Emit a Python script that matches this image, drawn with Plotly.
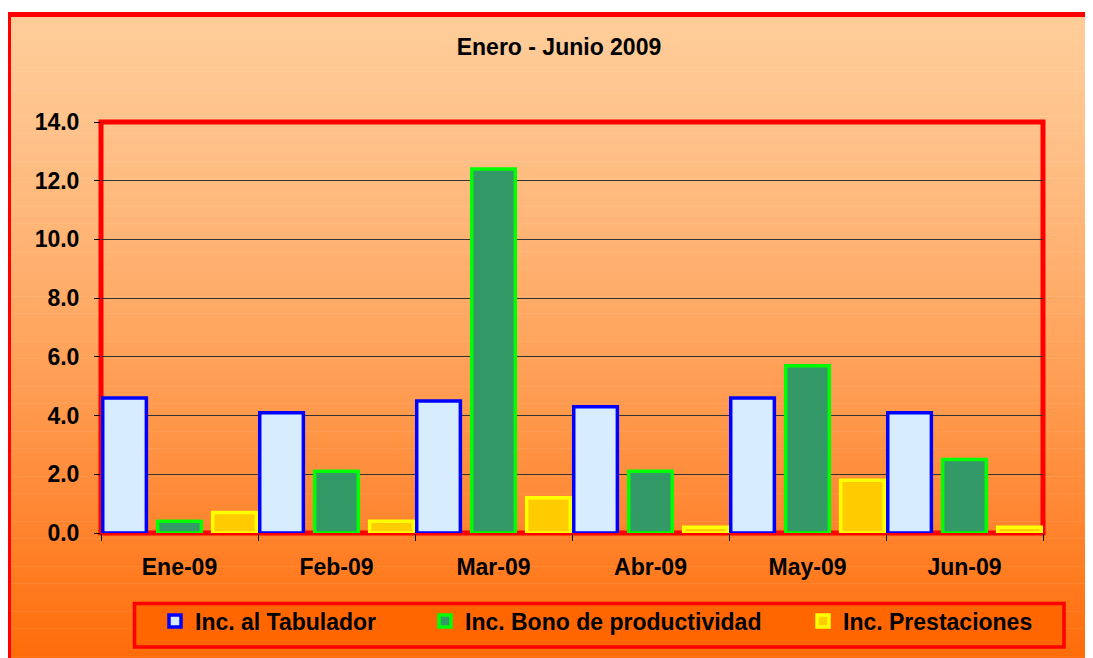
import plotly.graph_objects as go

# ---- data ----
months = ["Ene-09", "Feb-09", "Mar-09", "Abr-09", "May-09", "Jun-09"]
tabulador = [4.6, 4.1, 4.5, 4.3, 4.6, 4.1]
bono = [0.4, 2.1, 12.4, 2.1, 5.7, 2.5]
prestaciones = [0.7, 0.4, 1.2, 0.2, 1.8, 0.2]
series_names = ["Inc. al Tabulador", "Inc. Bono de productividad", "Inc. Prestaciones"]
y_ticks = [0, 2, 4, 6, 8, 10, 12, 14]

OFF = 8  # page body margin
W, H = 1093 - OFF, 658 - OFF
ML, MT = 101 - OFF, 122 - OFF
MR = W - (1043 - OFF)
MB = H - (533 - OFF)
PW, PH = W - ML - MR, H - MT - MB
FONT = "Liberation Sans, Arial, sans-serif"
FS = 23


def px_x(x):
    return (x - OFF - ML) / PW


def px_y(y):
    return (H - MB - (y - OFF)) / PH


fig = go.Figure()

bar_w = 0.278
offsets = [-0.489, -0.139, 0.211]
fills = ["#D7ECFC", "#339966", "#FFCC00"]
lines = ["#0000FF", "#00FF00", "#FFFF00"]
vals = [tabulador, bono, prestaciones]
legend_ids = ["legend", "legend2", "legend3"]

for name, v, f, lc, off, lg in zip(series_names, vals, fills, lines, offsets, legend_ids):
    fig.add_trace(go.Bar(
        x=months, y=v, name=name,
        width=bar_w, offset=off,
        marker=dict(color=f, line=dict(color=lc, width=3.5)),
        legend=lg,
    ))

# background gradient (chart area)
shapes = []
top_c = (255, 204, 153)
bot_c = (255, 102, 0)
y0, y1 = 15, 690
n = 120
for i in range(n):
    a = y0 + (y1 - y0) * i / n
    b = y0 + (y1 - y0) * (i + 1) / n
    t = ((i + 0.5) / n) ** 1.3
    c = tuple(round(top_c[k] + (bot_c[k] - top_c[k]) * t) for k in range(3))
    shapes.append(dict(type="rect", xref="paper", yref="paper", layer="below",
                       x0=px_x(8), x1=px_x(1200), y0=px_y(a), y1=px_y(b + 0.6),
                       fillcolor="rgb(%d,%d,%d)" % c, line=dict(width=0)))
# outer chart border
shapes.append(dict(type="rect", xref="paper", yref="paper", layer="below",
                   x0=px_x(8.5), x1=px_x(1200), y0=px_y(14.5), y1=px_y(800),
                   fillcolor="rgba(0,0,0,0)", line=dict(color="#FF0000", width=5)))
# plot area border
shapes.append(dict(type="rect", xref="paper", yref="paper", layer="below",
                   x0=0, x1=1, y0=0, y1=1,
                   fillcolor="rgba(0,0,0,0)", line=dict(color="#FF0000", width=5)))
# legend box
shapes.append(dict(type="rect", xref="paper", yref="paper", layer="below",
                   x0=px_x(134.5), x1=px_x(1064), y0=px_y(603.5), y1=px_y(647),
                   fillcolor="#FF6600", line=dict(color="#FF0000", width=3.5)))

leg_common = dict(bgcolor="rgba(0,0,0,0)", borderwidth=0, orientation="h",
                  font=dict(family=FONT, size=FS, color="#000000", weight="bold"),
                  yanchor="middle", xanchor="left", itemwidth=30)

fig.update_layout(
    width=W, height=H,
    margin=dict(l=ML, r=MR, t=MT, b=MB, pad=0),
    paper_bgcolor="#FFFFFF",
    plot_bgcolor="rgba(0,0,0,0)",
    barmode="group",
    shapes=shapes,
    title=dict(text="Enero - Junio 2009", x=px_x(559), xref="paper", xanchor="center",
               y=1 - (47 - OFF) / H, yref="container", yanchor="middle",
               font=dict(family=FONT, size=FS, color="#000000", weight="bold")),
    font=dict(family=FONT, size=FS, color="#000000"),
    showlegend=True,
    legend=dict(x=px_x(155), y=px_y(621), **leg_common),
    legend2=dict(x=px_x(425), y=px_y(621), **leg_common),
    legend3=dict(x=px_x(803), y=px_y(621), **leg_common),
    xaxis=dict(
        type="category", range=[-0.5, 5.5], showgrid=False, zeroline=False,
        showline=False, ticks="outside", tickson="boundaries", ticklen=7,
        tickcolor="#000000", tickwidth=1, ticklabelstandoff=18,
        tickfont=dict(family=FONT, size=FS, color="#000000", weight="bold"),
    ),
    yaxis=dict(
        range=[0, 14], tickvals=y_ticks, tickformat=".1f", showgrid=True,
        gridcolor="#333333", gridwidth=1, zeroline=False, showline=False,
        ticks="outside", ticklen=6, tickcolor="#000000", tickwidth=1,
        ticklabelstandoff=10,
        tickfont=dict(family=FONT, size=FS, color="#000000", weight="bold"),
    ),
)

fig.write_html("out.html")
